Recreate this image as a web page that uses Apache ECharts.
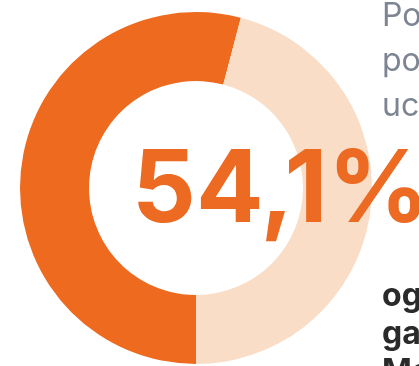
<!DOCTYPE html>
<html>
<head>
<meta charset="utf-8">
<style>
  html, body { margin: 0; padding: 0; background: #ffffff; overflow: hidden; }
  #chart { width: 419px; height: 366px; }
</style>
<script src="https://cdn.jsdelivr.net/npm/echarts@6/dist/echarts.min.js"></script>
</head>
<body>
<div id="chart"></div>
<script>
// Share of respondents (percent) and the remainder of the ring
const shareNames = ['Udział', 'Pozostali'];
const shareValues = [54.1, 45.9];
const shareColors = ['#ED6A1F', '#F9DDC6'];

// Side captions
const noteLines = ['Podobnie jak', 'poprzednio,', 'uczestnicy'];
const boldLines = ['ogółem', 'gałęzi', 'Mazowsza'];

const headline = shareValues[0].toFixed(1).replace('.', ',') + '%';

const chart = echarts.init(document.getElementById('chart'), null, { renderer: 'canvas' });

const graphics = [
  {
    type: 'text',
    x: 132,
    y: 192,
    z: 10,
    style: {
      text: headline,
      fill: '#EC6A22',
      font: '700 100px Inter',
      align: 'left',
      verticalAlign: 'middle'
    }
  }
];

noteLines.forEach(function (line, i) {
  graphics.push({
    type: 'text',
    x: 382,
    y: 16 + i * 45,
    style: {
      text: line,
      fill: '#7D8593',
      font: '400 32px Inter',
      align: 'left',
      verticalAlign: 'middle'
    }
  });
});

boldLines.forEach(function (line, i) {
  graphics.push({
    type: 'text',
    x: 382,
    y: 296 + i * 38,
    style: {
      text: line,
      fill: '#2A2A2A',
      font: '700 32px Inter',
      align: 'left',
      verticalAlign: 'middle'
    }
  });
});

chart.setOption({
  animation: false,
  backgroundColor: '#ffffff',
  series: [
    {
      type: 'pie',
      center: [196, 188],
      radius: [107, 176],
      startAngle: -90,
      clockwise: true,
      silent: true,
      avoidLabelOverlap: false,
      label: { show: false },
      labelLine: { show: false },
      emphasis: { disabled: true },
      itemStyle: { borderWidth: 0 },
      data: shareNames.map(function (name, i) {
        return { name: name, value: shareValues[i], itemStyle: { color: shareColors[i] } };
      })
    }
  ],
  graphic: graphics
});
</script>
</body>
</html>
